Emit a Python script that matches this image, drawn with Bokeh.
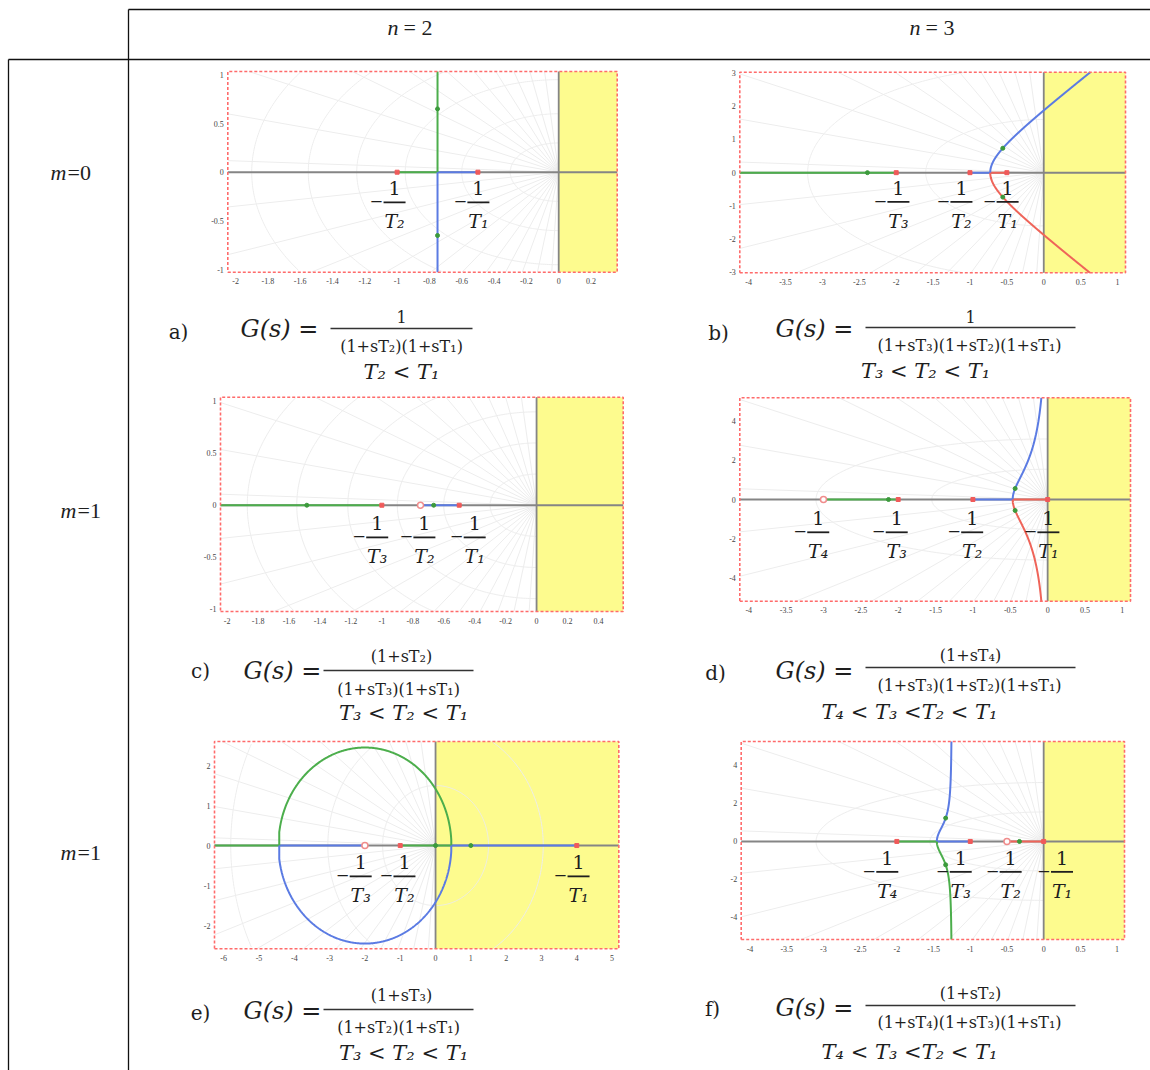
import numpy as np
from bokeh.plotting import figure
from bokeh.models import Range1d
from bokeh.core.properties import value
from bokeh.embed import file_html
from bokeh.resources import INLINE

W, H = 1150, 1070

# ---------------- chart data ----------------
panels = ["a", "b", "c", "d", "e", "f"]

# open-loop poles and zeros of each transfer function
poles = {
    "a": [-1.0, -0.5],
    "b": [-2.0, -1.0, -0.5],
    "c": [-1.0, -0.5],
    "d": [-2.0, -1.0, 0.0],
    "e": [-1.0, 4.0],
    "f": [-2.0, -1.0, 0.0],
}
zeros = {
    "a": [],
    "b": [],
    "c": [-0.75],
    "d": [-3.0],
    "e": [-2.0],
    "f": [-0.5],
}
# gain at which the closed-loop roots are marked
marker_gain = {"a": 0.485, "b": 1.025, "c": 0.65, "d": 0.359, "e": 2.0, "f": 2.17}

# axis limits
x_lims = {"a": (-2.048, 0.362), "b": (-4.12, 1.108), "c": (-2.043, 0.56),
          "d": (-4.12, 1.109), "e": (-6.26, 5.19), "f": (-4.12, 1.101)}
y_lims = {"a": (-1.027, 1.034), "b": (-3.01, 3.02), "c": (-1.024, 1.041),
          "d": (-5.21, 5.21), "e": (-2.58, 2.60), "f": (-5.16, 5.26)}

# tick values
x_ticks = {
    "a": [-2, -1.8, -1.6, -1.4, -1.2, -1, -0.8, -0.6, -0.4, -0.2, 0, 0.2],
    "b": [-4, -3.5, -3, -2.5, -2, -1.5, -1, -0.5, 0, 0.5, 1],
    "c": [-2, -1.8, -1.6, -1.4, -1.2, -1, -0.8, -0.6, -0.4, -0.2, 0, 0.2, 0.4],
    "d": [-4, -3.5, -3, -2.5, -2, -1.5, -1, -0.5, 0, 0.5, 1],
    "e": [-6, -5, -4, -3, -2, -1, 0, 1, 2, 3, 4, 5],
    "f": [-4, -3.5, -3, -2.5, -2, -1.5, -1, -0.5, 0, 0.5, 1],
}
y_ticks = {
    "a": [-1, -0.5, 0, 0.5, 1],
    "b": [-3, -2, -1, 0, 1, 2, 3],
    "c": [-1, -0.5, 0, 0.5, 1],
    "d": [-4, -2, 0, 2, 4],
    "e": [-2, -1, 0, 1, 2],
    "f": [-4, -2, 0, 2, 4],
}

# radii of the natural-frequency grid circles
grid_radii = {
    "a": [0.3, 0.6, 0.95, 1.25, 1.55, 1.9],
    "b": [1.6, 3.2],
    "c": [0.3, 0.6, 0.9, 1.22, 1.55, 1.87],
    "d": [1.55, 3.1],
    "e": [1.5, 3.05, 5.8],
    "f": [1.55, 3.1],
}

GREEN, BLUE, RED = "#4cae4c", "#5b7be3", "#ef6459"

# real-axis parts of the locus: (from, to, colour); "brk" = break-away point,
# "brk_in" = break-in point, "left" = left edge of the plot
axis_branches = {
    "a": [(-1.0, "brk", GREEN), (-0.5, "brk", BLUE)],
    "b": [(-2.0, "left", GREEN), (-1.0, "brk", BLUE), (-0.5, "brk", RED)],
    "c": [(-1.0, "left", GREEN), (-0.5, -0.75, BLUE)],
    "d": [(-2.0, -3.0, GREEN), (-1.0, "brk", BLUE), (0.0, "brk", RED)],
    "e": [(-1.0, "brk", GREEN), (4.0, "brk", BLUE),
          ("brk_in", -2.0, BLUE), ("brk_in", "left", GREEN)],
    "f": [(-2.0, "brk", GREEN), (-1.0, "brk", BLUE), (0.0, -0.5, RED)],
}
# colours of the upper / lower complex branches
pair_colors = {"a": (GREEN, BLUE), "b": (BLUE, RED), "c": None,
               "d": (BLUE, RED), "e": (GREEN, BLUE), "f": (BLUE, GREEN)}

# symbolic pole/zero labels (subscript of T)
root_labels = {
    "a": ["₂", "₁"],
    "b": ["₃", "₂", "₁"],
    "c": ["₃", "₂", "₁"],
    "d": ["₄", "₃", "₂", "₁"],
    "e": ["₃", "₂", "₁"],
    "f": ["₄", "₃", "₂", "₁"],
}

letters = ["a)", "b)", "c)", "d)", "e)", "f)"]
numerators = ["1", "1", "(1+sT₂)", "(1+sT₄)", "(1+sT₃)", "(1+sT₂)"]
denominators = ["(1+sT₂)(1+sT₁)", "(1+sT₃)(1+sT₂)(1+sT₁)", "(1+sT₃)(1+sT₁)",
                "(1+sT₃)(1+sT₂)(1+sT₁)", "(1+sT₂)(1+sT₁)", "(1+sT₄)(1+sT₃)(1+sT₁)"]
conditions = ["T₂ < T₁", "T₃ < T₂ < T₁", "T₃ < T₂ < T₁",
              "T₄ < T₃ <T₂ < T₁", "T₃ < T₂ < T₁", "T₄ < T₃ <T₂ < T₁"]

col_titles = ["2", "3"]
row_titles = ["=0", "=1", "=1"]

# ---------------- layout (page pixels) ----------------
frames = {  # left, right, top, bottom
    "a": (227.3, 616.7, 71.0, 271.7),
    "b": (739.3, 1125.0, 71.7, 272.3),
    "c": (220.0, 622.7, 396.7, 611.0),
    "d": (739.3, 1130.0, 397.3, 600.7),
    "e": (214.0, 618.3, 741.0, 948.3),
    "f": (740.7, 1124.0, 741.0, 939.0),
}
# root label placement: fraction centres (x, data units) and bar height (y, data)
label_x = {
    "a": [-1.016, -0.497],
    "b": [-1.97, -1.116, -0.49],
    "c": [-1.03, -0.725, -0.40],
    "d": [-3.07, -2.02, -1.01, 0.01],
    "e": [-2.12, -0.88, 4.05],
    "f": [-2.13, -1.13, -0.45, 0.25],
}
label_y = {"a": -0.31, "b": -0.88, "c": -0.31, "d": -1.68, "e": -0.77, "f": -1.6}

formula_pos = {  # letter, G(s) left, bar (x0, x1, y), numerator, denominator, condition
    "a": ((178, 331), (240, 328), (330, 472, 328), (401, 316), (401, 346), (401, 371)),
    "b": ((718, 332), (775, 328), (865, 1075, 327), (970, 316), (969, 345), (925, 370)),
    "c": ((200, 670), (243, 670), (323, 473, 670), (401, 656), (398, 689), (403, 712)),
    "d": ((715, 672), (775, 670), (865, 1075, 667), (970, 655), (969, 685), (909, 711)),
    "e": ((200, 1012), (243, 1010), (323, 473, 1009), (401, 995), (398, 1027), (403, 1052)),
    "f": ((712, 1008), (775, 1007), (865, 1075, 1005), (970, 993), (969, 1022), (909, 1051)),
}

SERIF = value("DejaVu Serif")
TIMES = value("Liberation Serif")
INK = "#1e1e1e"
YELLOW = "#fdfb8e"
GRID = "#ededed"

gains = np.logspace(-4, 4.5, 5000)


def char_poly(pz, zz, k):
    den = np.poly(pz)
    num = np.poly(zz) if len(zz) else np.array([1.0])
    num = np.concatenate([np.zeros(len(den) - len(num)), num])
    return den + k * num


def upper_branch(pz, zz):
    """Upper complex branch of the root locus, ordered by gain."""
    pts = []
    for k in gains:
        r = np.roots(char_poly(pz, zz, k))
        c = r[r.imag > 1e-6]
        if len(c):
            pts.append(c[0])
    if not pts:
        return None, None, None
    pts = np.array(pts)
    brk = pts[0].real
    last = np.roots(char_poly(pz, zz, gains[-1]))
    ended = not np.any(last.imag > 1e-6)
    xs = np.concatenate([[brk], pts.real])
    ys = np.concatenate([[0.0], pts.imag])
    brk_in = None
    if ended:
        brk_in = pts[-1].real
        xs = np.concatenate([xs, [brk_in]])
        ys = np.concatenate([ys, [0.0]])
    return xs, ys, (brk, brk_in)


def clip_path(xs, ys, box):
    x0, x1, y0, y1 = box
    inside = (xs >= x0) & (xs <= x1) & (ys >= y0) & (ys <= y1)
    if inside.all():
        return xs, ys
    i = int(np.argmax(~inside))
    if i == 0:
        return xs[:0], ys[:0]
    xa, ya, xb, yb = xs[i - 1], ys[i - 1], xs[i], ys[i]
    t = 1.0
    if xb < x0:
        t = min(t, (x0 - xa) / (xb - xa))
    if xb > x1:
        t = min(t, (x1 - xa) / (xb - xa))
    if yb < y0:
        t = min(t, (y0 - ya) / (yb - ya))
    if yb > y1:
        t = min(t, (y1 - ya) / (yb - ya))
    return (np.append(xs[:i], xa + t * (xb - xa)),
            np.append(ys[:i], ya + t * (yb - ya)))


p = figure(width=W, height=H, x_range=Range1d(0, W), y_range=Range1d(H, 0),
           output_backend="svg", toolbar_location=None, min_border=0,
           x_axis_location=None, y_axis_location=None)
p.grid.visible = False
p.outline_line_color = None
p.background_fill_color = "white"
p.border_fill_color = "white"

# table rules
p.segment(x0=[128, 8, 128, 8], y0=[9, 59, 9, 59],
          x1=[1150, 1150, 128, 8], y1=[9, 59, 1070, 1070],
          line_color="#111111", line_width=1.3)

# column headers  n = 2, n = 3
p.text(x=[398, 920], y=[27, 27], text=["n", "n"], text_font=TIMES,
       text_font_style="italic", text_font_size="22px", text_align="right",
       text_baseline="middle", text_color=INK)
p.text(x=[403, 925], y=[27, 27], text=["= " + c for c in col_titles], text_font=TIMES,
       text_font_size="22px", text_align="left", text_baseline="middle", text_color=INK)

# row headers  m=0, m=1, m=1
row_y = [172, 510, 852]
row_x = [66, 76, 76]
p.text(x=row_x, y=row_y, text=["m"] * 3, text_font=TIMES, text_font_style="italic",
       text_font_size="22px", text_align="right", text_baseline="middle", text_color=INK)
p.text(x=[x + 1 for x in row_x], y=row_y, text=row_titles, text_font=TIMES,
       text_font_size="22px", text_align="left", text_baseline="middle", text_color=INK)

theta_left = np.linspace(np.pi / 2, 3 * np.pi / 2, 240)
theta_full = np.linspace(0, 2 * np.pi, 480)
spoke_angles = np.deg2rad(np.arange(94, 268, 8))

for k in panels:
    L, R, T, B = frames[k]
    x0, x1 = x_lims[k]
    y0, y1 = y_lims[k]
    box = (x0, x1, y0, y1)
    ppx = (R - L) / (x1 - x0)
    ppy = (B - T) / (y1 - y0)
    sub = p.subplot(x_source=Range1d(x0, x1), y_source=Range1d(y0, y1),
                    x_target=Range1d(L, R), y_target=Range1d(B, T))

    # unstable half-plane
    sub.quad(left=[0], right=[x1], bottom=[y0], top=[y1],
             fill_color=YELLOW, line_color=None)

    # grid: circles of constant natural frequency and radial damping lines
    th = theta_full if k == "e" else theta_left
    cx, cy = [], []
    for r in grid_radii[k]:
        gx, gy = r * np.cos(th), r * np.sin(th)
        out = (gx < x0) | (gx > x1) | (gy < y0) | (gy > y1)
        gx = np.where(out, np.nan, gx)
        gy = np.where(out, np.nan, gy)
        cx.append(gx)
        cy.append(gy)
    sub.multi_line(xs=cx, ys=cy, line_color=GRID, line_width=1)
    sx, sy = [], []
    for a in spoke_angles:
        dx, dy = np.cos(a) / ppx, -np.sin(a) / ppy
        t = x0 / dx
        if dy > 0:
            t = min(t, y1 / dy)
        elif dy < 0:
            t = min(t, y0 / dy)
        sx.append([0, t * dx])
        sy.append([0, t * dy])
    sub.multi_line(xs=sx, ys=sy, line_color=GRID, line_width=1)

    # coordinate axes
    sub.line(x=[x0, x1], y=[0, 0], line_color="#858585", line_width=2)
    sub.line(x=[0, 0], y=[y0, y1], line_color="#858585", line_width=1.8)

    # root locus
    ux, uy, pts = upper_branch(poles[k], zeros[k])
    brk, brk_in = (pts if pts else (None, None))

    def resolve(v):
        if v == "brk":
            return brk
        if v == "brk_in":
            return brk_in
        if v == "left":
            return x0
        return v

    for a, b, col in axis_branches[k]:
        sub.line(x=[resolve(a), resolve(b)], y=[0, 0], line_color=col, line_width=2)

    if pair_colors[k] is not None:
        cu, cl = pair_colors[k]
        xu, yu = clip_path(ux, uy, box)
        xl, yl = clip_path(ux, -uy, box)
        sub.line(x=xu, y=yu, line_color=cu, line_width=2)
        sub.line(x=xl, y=yl, line_color=cl, line_width=2)

    # poles, zeros and marked closed-loop roots
    sub.scatter(x=poles[k], y=[0] * len(poles[k]), marker="square", size=4,
                fill_color="#f05a5a", line_color="#f05a5a")
    if zeros[k]:
        sub.scatter(x=zeros[k], y=[0] * len(zeros[k]), marker="circle", size=6,
                    fill_color="white", line_color="#f08c8c", line_width=1.5)
    mr = np.roots(char_poly(poles[k], zeros[k], marker_gain[k]))
    sub.scatter(x=mr.real, y=mr.imag, marker="circle", size=4,
                fill_color="#3c9a3c", line_color="#3c9a3c")

    # -1/T labels
    lx = label_x[k]
    ly = label_y[k]
    n = len(lx)
    sub.text(x=lx, y=[ly + 14 / ppy] * n, text=["1"] * n, text_font=SERIF,
             text_font_size="19px", text_align="center", text_baseline="middle",
             text_color=INK)
    sub.text(x=lx, y=[ly - 19 / ppy] * n, text=["T" + s for s in root_labels[k]],
             text_font=SERIF, text_font_style="italic", text_font_size="19px",
             text_align="center", text_baseline="middle", text_color=INK)
    sub.rect(x=lx, y=[ly] * n, width=22, height=1.8, width_units="screen",
             height_units="screen", fill_color=INK, line_color=None)
    sub.text(x=[v - 18 / ppx for v in lx], y=[ly] * n, text=["−"] * n,
             text_font=TIMES, text_font_size="22px", text_align="center",
             text_baseline="middle", text_color=INK)

    # tick labels
    xt = x_ticks[k]
    yt = y_ticks[k]
    sub.text(x=xt, y=[y0 - 9 / ppy] * len(xt), text=[f"{v:g}" for v in xt],
             text_font=TIMES, text_font_size="8px", text_align="center",
             text_baseline="middle", text_color="#444444")
    sub.text(x=[x0 - 4 / ppx] * len(yt), y=yt, text=[f"{v:g}" for v in yt],
             text_font=TIMES, text_font_size="8px", text_align="right",
             text_baseline="middle", text_color="#444444")

    # frame
    sub.line(x=[x0, x1, x1, x0, x0], y=[y0, y0, y1, y1, y0], line_color="#ff6b6b",
             line_width=1.6, line_dash="3 2")

# transfer functions under each panel
for i, k in enumerate(panels):
    lt, gpos, bar, num, den, cond = formula_pos[k]
    p.text(x=[lt[0]], y=[lt[1]], text=[letters[i]], text_font=SERIF,
           text_font_size="20px", text_align="center", text_baseline="middle",
           text_color=INK)
    p.text(x=[gpos[0]], y=[gpos[1]], text=["G(s) ="], text_font=SERIF,
           text_font_style="italic", text_font_size="24px", text_align="left",
           text_baseline="middle", text_color=INK)
    p.segment(x0=[bar[0]], y0=[bar[2]], x1=[bar[1]], y1=[bar[2]],
              line_color="#333333", line_width=1.5)
    p.text(x=[num[0]], y=[num[1]], text=[numerators[i]], text_font=SERIF,
           text_font_size="16px", text_align="center", text_baseline="middle",
           text_color=INK)
    p.text(x=[den[0]], y=[den[1]], text=[denominators[i]], text_font=SERIF,
           text_font_size="16px", text_align="center", text_baseline="middle",
           text_color=INK)
    p.text(x=[cond[0]], y=[cond[1]], text=[conditions[i]], text_font=SERIF,
           text_font_style="italic", text_font_size="21px", text_align="center",
           text_baseline="middle", text_color=INK)

open("out.html", "w").write(file_html(p, INLINE))
